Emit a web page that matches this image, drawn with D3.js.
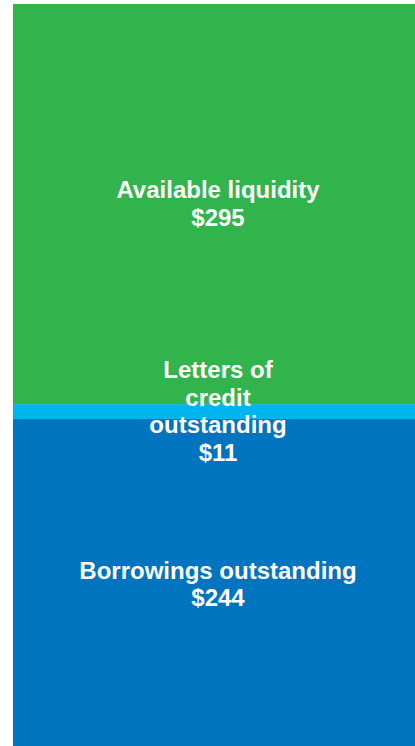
<html>
<head>
<meta charset="utf-8">
<script src="https://cdn.jsdelivr.net/npm/d3@7"></script>
<style>
  body { margin: 0; background: #fff; }
  svg { display: block; }
</style>
</head>
<body>
<div id="chart"></div>
<script>
  // data, bottom to top
  const categories = ["Borrowings outstanding", "Letters of credit outstanding", "Available liquidity"]
  const values = [244, 11, 295]
  const labelLines = [
    ["Borrowings outstanding", "$244"],
    ["Letters of", "credit", "outstanding", "$11"],
    ["Available liquidity", "$295"]
  ]
  const colors = ["#0174BF", "#00B4EE", "#31B44B"]

  const width = 415
  const height = 746

  const svg = d3.select("#chart").append("svg")
    .attr("width", width)
    .attr("height", height)

  // stack the values
  let acc = 0
  const stacked = values.map((v, i) => {
    const d = { name: categories[i], v: v, y0: acc, y1: acc + v, lines: labelLines[i], color: colors[i] }
    acc += v
    return d
  })

  // bar runs a bit past the bottom and right edge of the picture
  const y = d3.scaleLinear().domain([0, acc]).range([750, 4])
  const x = d3.scaleBand().domain(["total"]).range([13, 423]).padding(0)

  svg.selectAll("rect.seg").data(stacked).join("rect")
    .attr("class", "seg")
    .attr("x", x("total"))
    .attr("width", x.bandwidth())
    .attr("y", d => y(d.y1))
    .attr("height", d => y(d.y0) - y(d.y1))
    .attr("fill", d => d.color)

  //labels
  const lh = 27.5
  const lab = svg.selectAll("text.lab").data(stacked).join("text")
    .attr("class", "lab")
    .attr("text-anchor", "middle")
    .attr("fill", "#fff")
    .attr("font-family", "Liberation Sans, Arial, sans-serif")
    .attr("font-weight", "bold")
    .attr("font-size", "24px")
    .attr("transform", d => {
      const cy = (y(d.y0) + y(d.y1)) / 2
      const top = cy - (d.lines.length - 1) * lh / 2
      return `translate(${x("total") + x.bandwidth() / 2},${top + 8})`
    })
  lab.selectAll("tspan").data(d => d.lines).join("tspan")
    .attr("x", 0)
    .attr("y", (d, i) => i * lh)
    .text(d => d)
</script>
</body>
</html>
